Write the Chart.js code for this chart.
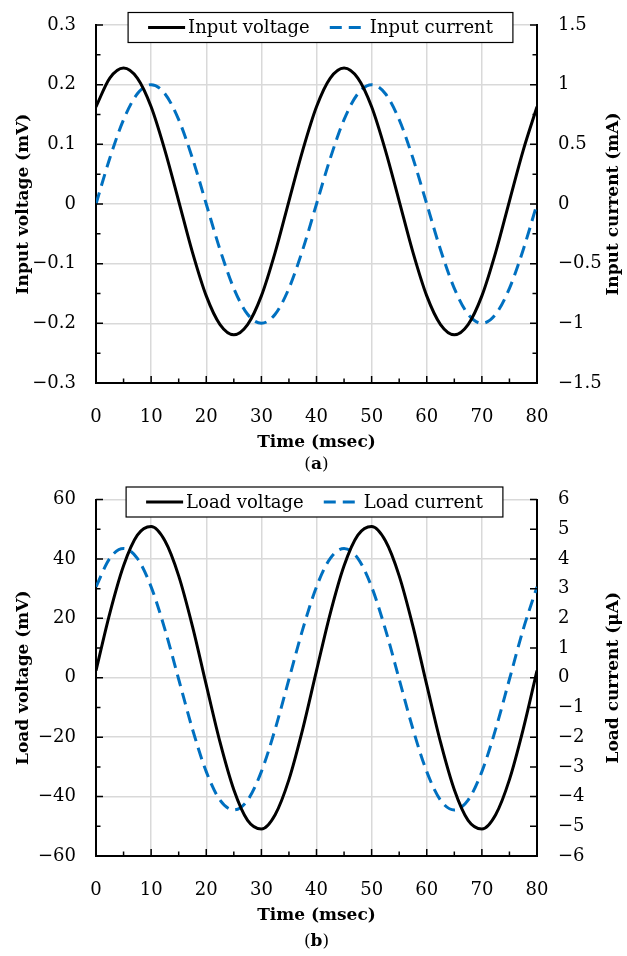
<!DOCTYPE html>
<html>
<head>
<meta charset="utf-8">
<script src="https://cdn.jsdelivr.net/npm/chart.js@4.4.1/dist/chart.umd.min.js"></script>
<style>
  body { margin: 0; background: #fff; }
  .panel { position: absolute; left: 0; width: 627px; height: 478px; }
</style>
</head>
<body>
<div class="panel" style="top:0"><canvas id="chartA"></canvas></div>
<div class="panel" style="top:478px"><canvas id="chartB"></canvas></div>
<script>
// time axis (msec)
const timeMs = [0, 2.5, 5, 7.5, 10, 12.5, 15, 17.5, 20, 22.5, 25, 27.5, 30, 32.5, 35, 37.5,
  40, 42.5, 45, 47.5, 50, 52.5, 55, 57.5, 60, 62.5, 65, 67.5, 70, 72.5, 75, 77.5, 80];

// panel (a)
const inputVoltage = [0.163, 0.211, 0.228, 0.211, 0.163, 0.090, 0.005, -0.081, -0.154, -0.202, -0.219, -0.202, -0.154, -0.081, 0.005, 0.090,
  0.163, 0.211, 0.228, 0.211, 0.163, 0.090, 0.005, -0.081, -0.154, -0.202, -0.219, -0.202, -0.154, -0.081, 0.005, 0.090, 0.163];
const inputCurrent = [0, 0.383, 0.707, 0.924, 1.0, 0.924, 0.707, 0.383, 0, -0.383, -0.707, -0.924, -1.0, -0.924, -0.707, -0.383,
  0, 0.383, 0.707, 0.924, 1.0, 0.924, 0.707, 0.383, 0, -0.383, -0.707, -0.924, -1.0, -0.924, -0.707, -0.383, 0];

// panel (b)
const loadVoltage = [2.4, 21.7, 37.7, 48.0, 50.9, 46.1, 34.3, 17.3, -2.4, -21.7, -37.7, -48.0, -50.9, -46.1, -34.3, -17.3,
  2.4, 21.7, 37.7, 48.0, 50.9, 46.1, 34.3, 17.3, -2.4, -21.7, -37.7, -48.0, -50.9, -46.1, -34.3, -17.3, 2.4];
const loadCurrent = [3.06, 4.02, 4.35, 4.02, 3.06, 1.63, -0.05, -1.73, -3.16, -4.12, -4.45, -4.12, -3.16, -1.73, -0.05, 1.63,
  3.06, 4.02, 4.35, 4.02, 3.06, 1.63, -0.05, -1.73, -3.16, -4.12, -4.45, -4.12, -3.16, -1.73, -0.05, 1.63, 3.06];

const serif = "'DejaVu Serif', serif";
const gridGray = '#d9d9d9';
const blue = '#0070c0';

Chart.defaults.font.family = serif;
Chart.defaults.font.size = 18;
Chart.defaults.color = '#000';

function fmt(v) {
  let s = String(Math.round(v * 1000) / 1000);
  return s.replace('-', '\u2212');
}

function pts(ys) {
  return timeMs.map((t, i) => ({ x: t, y: ys[i] }));
}

// inward ticks, boxed legend, axis titles and caption
const extras = {
  id: 'extras',
  afterDraw(chart, args, o) {
    const ctx = chart.ctx, a = chart.chartArea;
    const sx = chart.scales.x, yl = chart.scales.y, yr = chart.scales.y1;
    ctx.save();
    ctx.strokeStyle = '#000';
    ctx.lineWidth = 1.5;

    function marks(scale, minor, draw) {
      const vals = scale.ticks.map(t => t.value);
      vals.forEach((v, i) => {
        draw(scale.getPixelForValue(v), 7);
        if (minor && i < vals.length - 1) draw(scale.getPixelForValue((v + vals[i + 1]) / 2), 4.5);
      });
    }
    ctx.beginPath();
    marks(sx, true, (p, len) => { ctx.moveTo(p, a.bottom); ctx.lineTo(p, a.bottom - len); });
    marks(yl, true, (p, len) => { ctx.moveTo(a.left, p); ctx.lineTo(a.left + len, p); });
    marks(yr, o.minorRight, (p, len) => { ctx.moveTo(a.right, p); ctx.lineTo(a.right - len, p); });
    ctx.stroke();

    // legend
    const sets = chart.data.datasets;
    ctx.font = '18px ' + serif;
    const pad = 20, sample = 37, gap = 3, between = 20, h = 30;
    let w = pad * 2;
    sets.forEach((d, i) => { w += sample + gap + ctx.measureText(d.label).width + (i ? between : 0); });
    const cy = a.top + 2.5;
    let x = (a.left + a.right) / 2 - w / 2 + o.legendShift;
    ctx.fillStyle = '#fff';
    ctx.fillRect(x, cy - h / 2, w, h);
    ctx.lineWidth = 1.2;
    ctx.strokeRect(x, cy - h / 2, w, h);
    x += pad;
    sets.forEach((d, i) => {
      if (i) x += between;
      ctx.beginPath();
      ctx.strokeStyle = d.borderColor;
      ctx.lineWidth = d.borderWidth;
      ctx.setLineDash(d.borderDash || []);
      ctx.moveTo(x, cy); ctx.lineTo(x + sample, cy);
      ctx.stroke();
      ctx.setLineDash([]);
      x += sample + gap;
      ctx.fillStyle = '#000';
      ctx.textAlign = 'left';
      ctx.textBaseline = 'middle';
      ctx.fillText(d.label, x, cy + 1);
      x += ctx.measureText(d.label).width;
    });

    // axis titles
    const midY = (a.top + a.bottom) / 2, midX = (a.left + a.right) / 2;
    ctx.font = 'bold 17px ' + serif;
    ctx.fillStyle = '#000';
    ctx.textAlign = 'center';
    ctx.textBaseline = 'middle';
    ctx.fillText(o.xTitle, midX, o.xTitleY);
    [[o.leftX, o.leftTitle], [o.rightX, o.rightTitle]].forEach(([tx, txt]) => {
      ctx.save();
      ctx.translate(tx, midY);
      ctx.rotate(-Math.PI / 2);
      ctx.fillText(txt, 0, 0);
      ctx.restore();
    });

    // caption like (a)
    ctx.font = '17px ' + serif;
    const w1 = ctx.measureText('(').width;
    ctx.font = 'bold 17px ' + serif;
    const w2 = ctx.measureText(o.caption).width;
    ctx.font = '17px ' + serif;
    const w3 = ctx.measureText(')').width;
    let cx = midX - (w1 + w2 + w3) / 2;
    ctx.textAlign = 'left';
    ctx.fillText('(', cx, o.captionY);
    ctx.font = 'bold 17px ' + serif;
    ctx.fillText(o.caption, cx + w1, o.captionY);
    ctx.font = '17px ' + serif;
    ctx.fillText(')', cx + w1 + w2, o.captionY);
    ctx.restore();
  }
};

function makeChart(id, v, c, names, yl, yr, ex, topPad, xHeight) {
  return new Chart(document.getElementById(id), {
    type: 'line',
    data: {
      datasets: [{
        label: names[0],
        data: pts(v),
        yAxisID: 'y',
        borderColor: '#000',
        borderWidth: 3,
        pointRadius: 0,
        cubicInterpolationMode: 'monotone'
      }, {
        label: names[1],
        data: pts(c),
        yAxisID: 'y1',
        borderColor: blue,
        borderWidth: 3,
        borderDash: [12, 7],
        pointRadius: 0,
        cubicInterpolationMode: 'monotone'
      }]
    },
    options: {
      responsive: true,
      maintainAspectRatio: false,
      animation: false,
      layout: { padding: { top: topPad, left: 0, right: 0, bottom: 0 } },
      plugins: { legend: { display: false }, tooltip: { enabled: false }, extras: ex },
      scales: {
        x: {
          type: 'linear', min: 0, max: 80,
          ticks: { stepSize: 10, padding: 24, maxRotation: 0 },
          grid: { color: gridGray, lineWidth: 1.5, drawTicks: false },
          border: { display: true, color: '#000', width: 2 },
          afterFit(s) { s.height = xHeight; s.paddingLeft = 0; s.paddingRight = 0; }
        },
        y: {
          position: 'left', min: yl[0], max: yl[1],
          ticks: { stepSize: yl[2], padding: 20, callback: fmt },
          grid: { color: gridGray, lineWidth: 1.5, drawTicks: false },
          border: { display: true, color: '#000', width: 2 },
          afterFit(s) { s.width = 96; s.paddingTop = 0; s.paddingBottom = 0; }
        },
        y1: {
          position: 'right', min: yr[0], max: yr[1],
          ticks: { stepSize: yr[2], padding: 21, callback: fmt },
          grid: { drawOnChartArea: false, drawTicks: false },
          border: { display: true, color: '#000', width: 2 },
          afterFit(s) { s.width = 90; s.paddingTop = 0; s.paddingBottom = 0; }
        }
      }
    },
    plugins: [extras]
  });
}

makeChart('chartA', inputVoltage, inputCurrent, ['Input voltage', 'Input current'],
  [-0.3, 0.3, 0.1], [-1.5, 1.5, 0.5],
  { xTitle: 'Time (msec)', xTitleY: 443, leftTitle: 'Input voltage (mV)', rightTitle: 'Input current (mA)',
    leftX: 24, rightX: 614, caption: 'a', captionY: 465, minorRight: true, legendShift: 4 },
  25, 95);

makeChart('chartB', loadVoltage, loadCurrent, ['Load voltage', 'Load current'],
  [-60, 60, 20], [-6, 6, 1],
  { xTitle: 'Time (msec)', xTitleY: 438, leftTitle: 'Load voltage (mV)', rightTitle: 'Load current (\u03bcA)',
    leftX: 24, rightX: 614, caption: 'b', captionY: 464, minorRight: false, legendShift: -2 },
  21.5, 100);
</script>
</body>
</html>
